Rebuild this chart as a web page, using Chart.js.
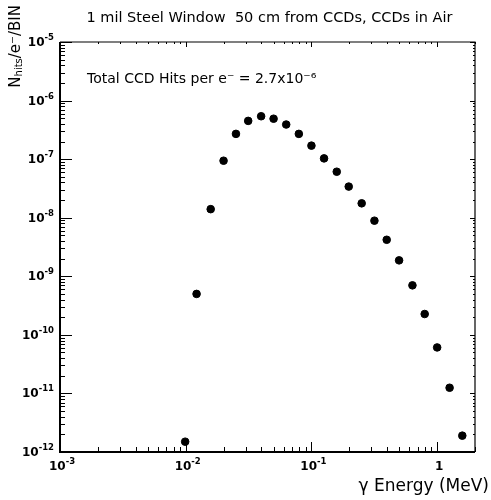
<!DOCTYPE html>
<html>
<head>
<meta charset="utf-8">
<script src="https://cdn.jsdelivr.net/npm/chart.js@4.4.0/dist/chart.umd.min.js"></script>
<style>
  body { margin: 0; background: #fff; }
  canvas { display: block; }
</style>
</head>
<body>
<canvas id="chart" width="491" height="500"></canvas>
<script>
'use strict';
// gamma energy bin centres (MeV) and hits per electron per bin
var energies = [0.0099, 0.0122, 0.0158, 0.0200, 0.0251, 0.0314, 0.0398, 0.0500, 0.0630, 0.0794, 0.100, 0.126,
                0.159, 0.198, 0.251, 0.317, 0.397, 0.498, 0.636, 0.796, 1.00, 1.256, 1.585];
var hits = [1.5e-12, 5.0e-10, 1.4e-8, 9.4e-8, 2.7e-7, 4.5e-7, 5.4e-7, 4.9e-7, 3.9e-7, 2.7e-7, 1.7e-7, 1.03e-7,
            6.1e-8, 3.4e-8, 1.76e-8, 8.9e-9, 4.2e-9, 1.87e-9, 7.0e-10, 2.27e-10, 6.1e-11, 1.25e-11, 1.9e-12];

// tick labels: mantissa text + exponent text
var xTickVals = [1e-3, 1e-2, 1e-1, 1];
var xTickBase = ['10', '10', '10', '1'];
var xTickExp = ['-3', '-2', '-1', ''];
var yTickVals = [1e-12, 1e-11, 1e-10, 1e-9, 1e-8, 1e-7, 1e-6, 1e-5];
var yTickBase = ['10', '10', '10', '10', '10', '10', '10', '10'];
var yTickExp = ['-12', '-11', '-10', '-9', '-8', '-7', '-6', '-5'];

var FONT = '"DejaVu Sans", Verdana, sans-serif';

function decadeValues (min, max) {
    var out = [];
    var lo = Math.floor(Math.log10(min)), hi = Math.ceil(Math.log10(max));
    for (var e = lo; e <= hi; e++) {
        for (var m = 1; m <= 9; m++) {
            var v = m * Math.pow(10, e);
            if (v >= min * 0.999 && v <= max * 1.001) out.push({v: v, major: m === 1});
        }
    }
    return out;
}

function powerLabel (ctx, base, exp, x, y, align) {
    ctx.font = 'bold 12px ' + FONT;
    var wb = ctx.measureText(base).width;
    ctx.font = 'bold 8.5px ' + FONT;
    var we = exp ? ctx.measureText(exp).width : 0;
    var w = wb + we;
    var x0 = align === 'right' ? x - w : x - w / 2;
    ctx.textAlign = 'left';
    ctx.textBaseline = 'alphabetic';
    ctx.font = 'bold 12px ' + FONT;
    ctx.fillText(base, x0, y);
    if (exp) {
        ctx.font = 'bold 8.5px ' + FONT;
        ctx.fillText(exp, x0 + wb, y - 6);
    }
}

// frame, inward ticks, tick labels, titles and the annotation
var framePlugin = {
    id: 'frame',
    afterDraw: function (chart) {
        var ctx = chart.ctx, a = chart.chartArea;
        var xs = chart.scales.x, ys = chart.scales.y;
        ctx.save();
        ctx.strokeStyle = '#000';

        ctx.lineWidth = 1.2;
        ctx.beginPath();
        ctx.moveTo(a.left, a.top); ctx.lineTo(a.right, a.top); ctx.lineTo(a.right, a.bottom);
        ctx.stroke();
        ctx.lineWidth = 2;
        ctx.beginPath();
        ctx.moveTo(a.left, a.top); ctx.lineTo(a.left, a.bottom); ctx.lineTo(a.right, a.bottom);
        ctx.stroke();

        ctx.lineWidth = 1;
        decadeValues(xs.min, xs.max).forEach(function (t) {
            var px = Math.round(xs.getPixelForValue(t.v)) + 0.5;
            ctx.beginPath();
            ctx.moveTo(px, a.bottom); ctx.lineTo(px, a.bottom - (t.major ? 10 : 5));
            ctx.moveTo(px, a.top); ctx.lineTo(px, a.top + (t.major ? 5 : 2));
            ctx.stroke();
        });
        decadeValues(ys.min, ys.max).forEach(function (t) {
            var py = Math.round(ys.getPixelForValue(t.v)) + 0.5;
            ctx.beginPath();
            ctx.moveTo(a.left, py); ctx.lineTo(a.left + (t.major ? 12 : 5), py);
            ctx.moveTo(a.right, py); ctx.lineTo(a.right - (t.major ? 5 : 2), py);
            ctx.stroke();
        });

        ctx.fillStyle = '#000';
        xTickVals.forEach(function (v, i) {
            powerLabel(ctx, xTickBase[i], xTickExp[i], xs.getPixelForValue(v) + 2, a.bottom + 18, 'center');
        });
        yTickVals.forEach(function (v, i) {
            powerLabel(ctx, yTickBase[i], yTickExp[i], a.left - 6, ys.getPixelForValue(v) + 4, 'right');
        });

        ctx.textBaseline = 'middle';
        ctx.font = '14.5px ' + FONT;
        ctx.textAlign = 'center';
        ctx.fillText('1 mil Steel Window  50 cm from CCDs, CCDs in Air', (a.left + a.right) / 2 + 2, 18);

        ctx.font = '14px ' + FONT;
        ctx.textAlign = 'left';
        ctx.fillText('Total CCD Hits per e\u207B = 2.7x10\u207B\u2076', a.left + 27, 79);

        ctx.font = '17px ' + FONT;
        ctx.textAlign = 'right';
        ctx.fillText('\u03B3 Energy (MeV)', 489, 487);

        // y title, rotated, with subscript
        ctx.translate(16, 5);
        ctx.rotate(-Math.PI / 2);
        ctx.textAlign = 'left';
        var parts = [['N', 15, 0], ['hits', 10, 3], ['/e\u207B/BIN', 15, 0]];
        var total = 0;
        parts.forEach(function (p) { ctx.font = p[1] + 'px ' + FONT; total += ctx.measureText(p[0]).width; });
        var cx = -total;
        parts.forEach(function (p) {
            ctx.font = p[1] + 'px ' + FONT;
            ctx.fillText(p[0], cx, p[2]);
            cx += ctx.measureText(p[0]).width;
        });
        ctx.restore();
    }
};

var ctx = document.getElementById('chart').getContext('2d');
var chart = new Chart(ctx, {
    type: 'scatter',
    data: {
        datasets: [{
            label: 'hits',
            data: energies.map(function (e, i) { return {x: e, y: hits[i]}; }),
            backgroundColor: '#000',
            borderColor: '#000',
            pointRadius: 3.8,
            pointHoverRadius: 3.8
        }]
    },
    options: {
        responsive: false,
        animation: false,
        layout: { padding: { top: 42, right: 16, left: 0, bottom: 0 } },
        plugins: { legend: { display: false }, tooltip: { enabled: false } },
        scales: {
            x: {
                type: 'logarithmic',
                min: 1e-3,
                max: 2,
                grid: { display: false },
                border: { display: false },
                ticks: { display: false },
                afterFit: function (s) { s.height = 48; }
            },
            y: {
                type: 'logarithmic',
                min: 1e-12,
                max: 1e-5,
                grid: { display: false },
                border: { display: false },
                ticks: { display: false },
                afterFit: function (s) { s.width = 60; }
            }
        }
    },
    plugins: [framePlugin]
});
</script>
</body>
</html>
